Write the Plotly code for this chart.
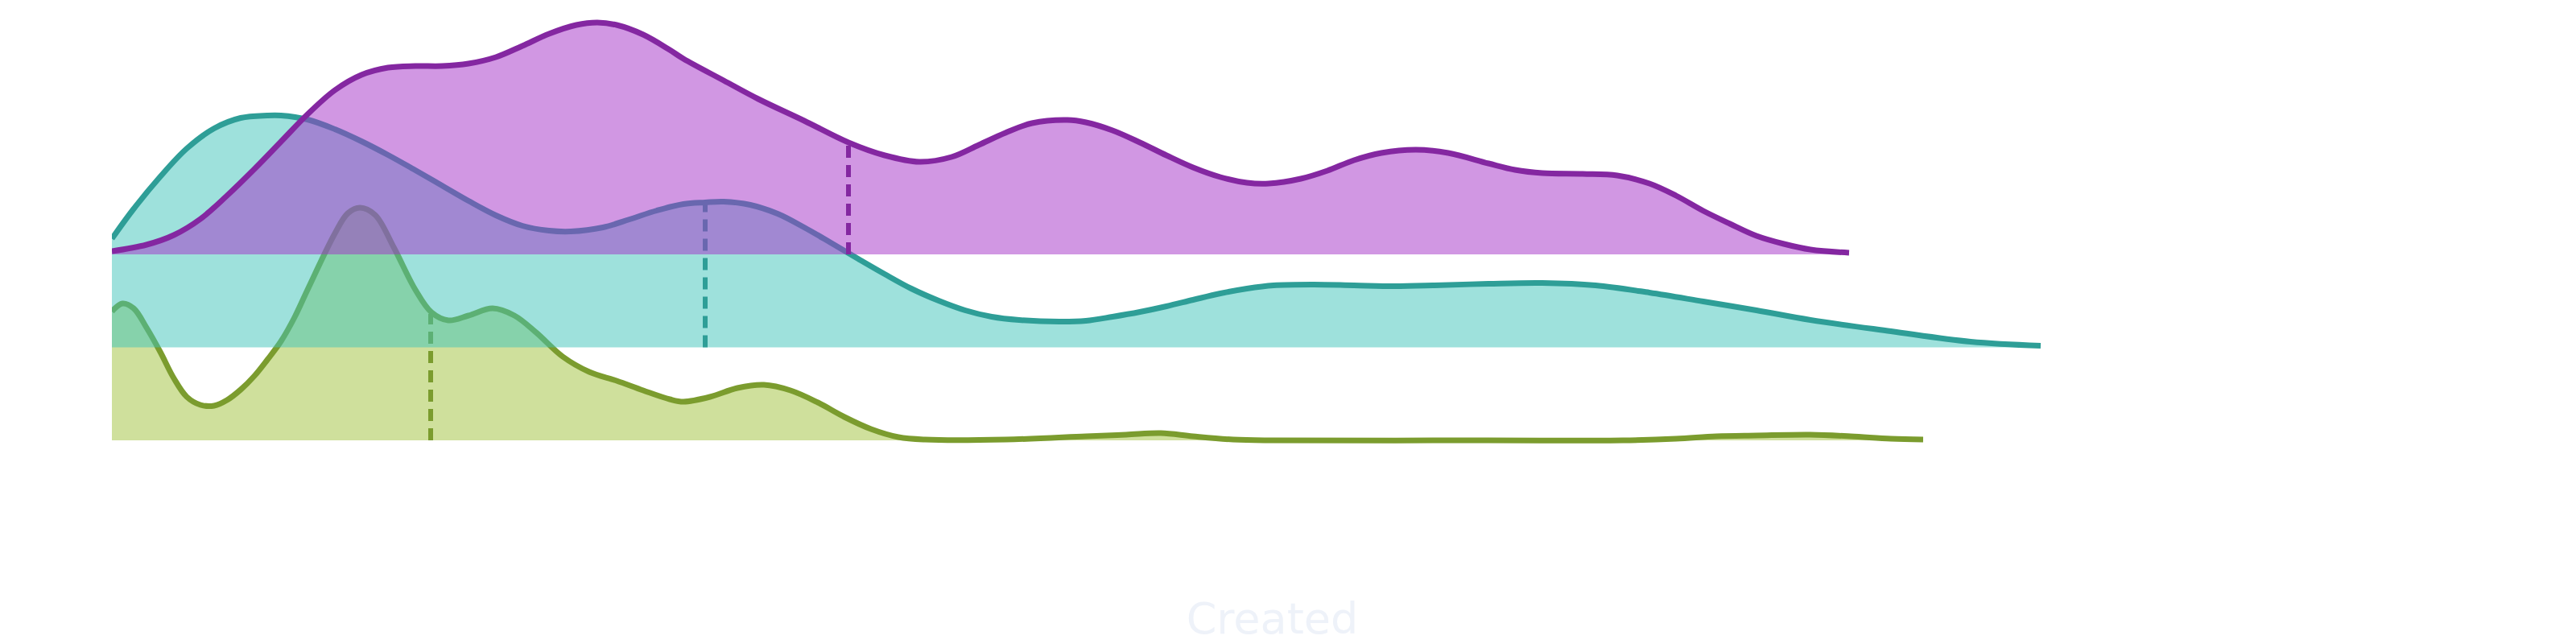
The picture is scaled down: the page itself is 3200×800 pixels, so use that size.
import plotly.graph_objects as go

# ---------------- data ----------------
series_names = ["Green", "Teal", "Purple"]  # bottom -> top ridge order

green_x = [0, 13, 27, 43, 60, 77, 93, 110, 127, 143, 160, 177, 193, 210, 227, 243, 277,
           293, 308, 327, 350, 377, 397, 418, 443, 473, 500, 527, 560, 593, 627, 660, 693,
           710, 743, 777, 810, 843, 877, 910, 943, 977, 1010, 1110, 1210, 1260, 1303, 1343,
           1393, 1443, 1710, 1877, 1943, 1993, 2043, 2110, 2160, 2210, 2250]
green_d = [160, 170, 164, 140, 110, 77, 54, 44, 43, 50, 63, 80, 100, 123, 153, 187, 257,
           282, 289, 280, 240, 187, 159, 149, 155, 164, 155, 134, 104, 85, 74, 62, 51,
           48, 54, 65, 69, 62, 47, 29, 14, 4, 1, 1, 5, 7, 9, 5,
           1, 0, 0, 0, 2, 5, 6, 7, 5, 2, 1]

teal_x = [0, 27, 60, 93, 127, 160, 193, 210, 243, 277, 310, 343, 377, 410, 443, 477, 510,
          543, 570, 610, 643, 677, 710, 737, 760, 793, 827, 860, 893, 927, 960, 993, 1027,
          1060, 1093, 1127, 1177, 1210, 1243, 1277, 1310, 1343, 1377, 1410, 1443, 1493,
          1543, 1593, 1643, 1710, 1777, 1843, 1910, 1977, 2043, 2110, 2210, 2309, 2396]
teal_d = [135, 172, 212, 247, 272, 285, 288, 288, 283, 271, 256, 239, 220, 201, 182, 164, 151,
          145, 144, 149, 159, 170, 178, 180, 181, 177, 166, 149, 130, 110, 91, 73, 58,
          46, 38, 34, 32, 33, 38, 44, 51, 59, 67, 73, 77, 78,
          77, 76, 77, 79, 80, 77, 68, 57, 46, 34, 20, 7, 2]

purple_x = [0, 43, 77, 110, 143, 177, 210, 243, 277, 310, 343, 377, 410, 443, 477, 510, 543,
            577, 603, 627, 660, 693, 710, 760, 803, 860, 915, 960, 1003, 1043, 1077, 1110,
            1143, 1187, 1210, 1243, 1277, 1310, 1343, 1377, 1410, 1437, 1477, 1510, 1543,
            1577, 1620, 1660, 1710, 1743, 1777, 1827, 1870, 1910, 1943, 1977, 2010, 2043,
            2077, 2110, 2158]
purple_d = [4, 12, 24, 44, 73, 106, 140, 174, 204, 223, 232, 234, 234, 237, 245, 259, 274,
            285, 288, 285, 273, 254, 243, 216, 193, 166, 139, 123, 115, 121, 136, 151,
            163, 167, 164, 154, 139, 123, 108, 96, 89, 88, 94, 104, 117,
            126, 130, 126, 113, 105, 101, 100, 98, 88, 73, 54, 38, 23,
            13, 6, 2]

median_x = [396, 737, 915]          # green, teal, purple
median_d = [157, 178, 139]          # density at the median

line_colors = ["#7b9c2e", "#2e9e97", "#8427a1"]
fill_colors = ["rgba(159,193,57,0.5)", "rgba(61,195,185,0.5)", "rgba(163,47,199,0.5)"]

RIDGE_GAP = 115.5
X_RANGE = [0, 2883]
Y_RANGE = [-161, 539]

# ---------------- figure ----------------
fig = go.Figure()
xs = [green_x, teal_x, purple_x]
ds = [green_d, teal_d, purple_d]

for i, (x, d) in enumerate(zip(xs, ds)):
    off = i * RIDGE_GAP
    # baseline for the fill
    fig.add_trace(go.Scatter(
        x=[x[0], x[-1]], y=[off, off], mode="lines",
        line=dict(width=0, color=fill_colors[i]), hoverinfo="skip", showlegend=False))
    # density ridge
    fig.add_trace(go.Scatter(
        x=x, y=[off + v for v in d], mode="lines", name=series_names[i],
        fill="tonexty", fillcolor=fill_colors[i],
        line=dict(color=line_colors[i], width=7, shape="spline", smoothing=1.0),
        showlegend=False))
    # median marker
    fig.add_trace(go.Scatter(
        x=[median_x[i], median_x[i]], y=[off, off + median_d[i]], mode="lines",
        line=dict(color=line_colors[i], width=6, dash="15px,9px"),
        hoverinfo="skip", showlegend=False))

fig.update_layout(
    width=3192, height=792,
    margin=dict(l=131, r=178, t=0, b=92),
    paper_bgcolor="white", plot_bgcolor="white",
    font=dict(family="DejaVu Sans", color="#eef2f9"),
    showlegend=False,
)
fig.update_xaxes(
    range=X_RANGE, showgrid=False, zeroline=False, showline=False,
    showticklabels=False, ticks="", automargin=False,
    title=dict(text="Created", font=dict(size=54, color="#eef2f9", family="DejaVu Sans"),
               standoff=42),
)
fig.update_yaxes(
    range=Y_RANGE, showgrid=False, zeroline=False, showline=False,
    showticklabels=False, ticks="", automargin=False,
)

fig.write_html("out.html")
